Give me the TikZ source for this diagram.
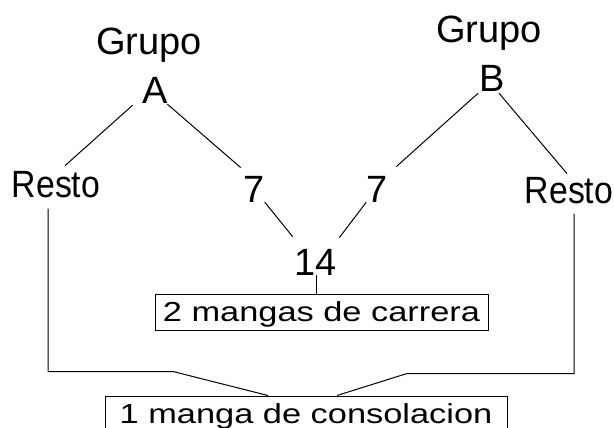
\documentclass[tikz,border=0pt]{standalone}
\usepackage{fontspec}
\setmainfont{Liberation Sans}
\begin{document}
\begin{tikzpicture}[x=1pt,y=-1pt,
  big/.style={inner sep=0pt, anchor=base, font=\fontsize{38}{40}\selectfont},
  box/.style={draw, line width=1pt, inner sep=0pt, minimum height=36pt, text height=19.7pt, text depth=0pt, font=\fontsize{27.5}{30}\selectfont},
  conn/.style={line width=1pt}]
\useasboundingbox (0,0) rectangle (614,428);
\node[big] (GA) at (149,55) {Grupo};
\node[big] (A) at (155.5,103) {A};
\node[big] (GB) at (489,43) {Grupo};
\node[big] (B) at (492,92) {B};
\node[big] (RL) at (56,197) {\scalebox{0.89}[1]{Resto}};
\node[big] (SL) at (254,202) {7};
\node[big] (SR) at (377,202) {7};
\node[big] (RR) at (569,203) {\scalebox{0.89}[1]{Resto}};
\node[big] (F) at (316,275) {14};
\node[box, minimum width=333pt] (M2) at (321.5,312) {\scalebox{1.25}[1]{2 mangas de carrera}};
\node[box, minimum width=402pt] (M1) at (306,414) {\scalebox{1.25}[1]{1 manga de consolacion}};
\draw[conn] ([shift={(-10,2)}]A.south west) -- ([shift={(9,-5)}]RL.north);
\draw[conn] ([shift={(-1,1)}]A.south east) -- ([shift={(-2.5,-8)}]SL.north west);
\draw[conn] (SL.south east) -- ([shift={(-2,-12)}]F.north west);
\draw[conn] ([shift={(-1,1)}]B.south west) -- ([shift={(8.5,-9)}]SR.north east);
\draw[conn] ([shift={(7,1)}]B.south) -- ([shift={(-2,-3)}]RR.north);
\draw[conn] (SR.south west) -- ([shift={(2,-11)}]F.north east);
\draw[conn] (F.south) -- (F.south |- M2.north);
\draw[conn] ([shift={(-8,11)}]RL.south) |- ([shift={(-133,-24)}]M1.north) -- ([xshift=-38]M1.north);
\draw[conn] ([shift={(5,10)}]RR.south) |- ([shift={(101,-22)}]M1.north) -- ([xshift=31]M1.north);
\end{tikzpicture}
\end{document}
